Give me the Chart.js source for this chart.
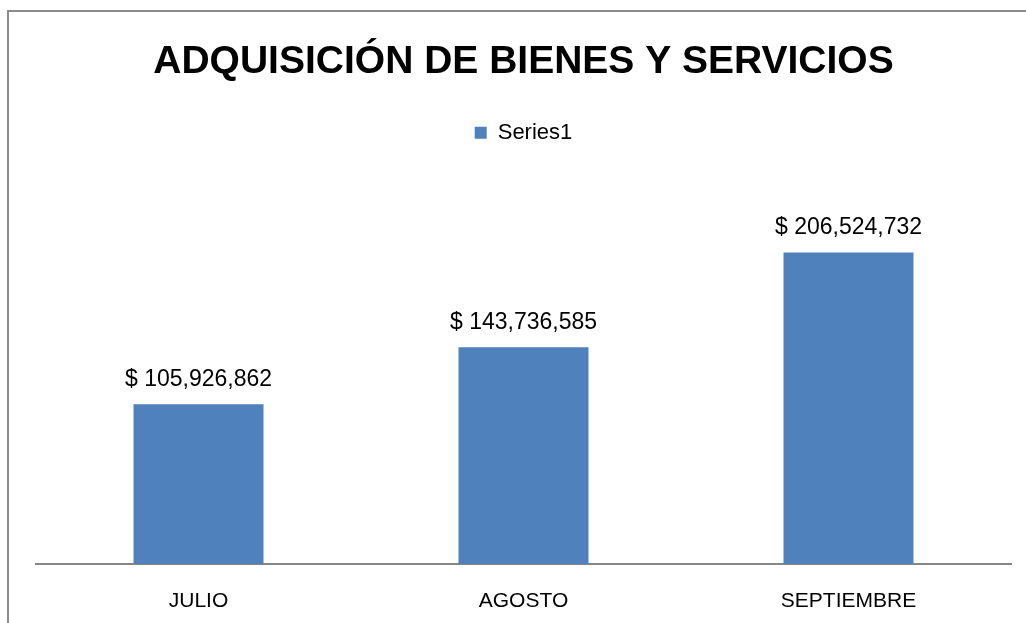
<!DOCTYPE html>
<html>
<head>
<meta charset="utf-8">
<script src="https://cdn.jsdelivr.net/npm/chart.js@4"></script>
<style>
  html, body { margin: 0; padding: 0; background: #fff; }
  #marco {
    position: absolute; left: 7px; top: 10px; width: 1030px; height: 630px;
    border-left: 2px solid #8c8c8c; border-top: 2px solid #8c8c8c;
  }
  #caja { position: absolute; left: 0; top: 0; width: 1026px; height: 623px; }
</style>
</head>
<body>
<div id="marco"></div>
<div id="caja"><canvas id="myChart"></canvas></div>
<script>
var meses = ["JULIO", "AGOSTO", "SEPTIEMBRE"];
var montos = [105926862, 143736585, 206524732];
var nombreSerie = "Series1";
var ejeMax = 250000000;

var fuente = "'Liberation Sans', Arial, sans-serif";

// etiquetas "$ 123,456" encima de cada barra
var etiquetas = {
  id: "etiquetas",
  afterDatasetsDraw: function (chart) {
    var ctx = chart.ctx;
    var meta = chart.getDatasetMeta(0);
    ctx.save();
    ctx.font = "23px " + fuente;
    ctx.fillStyle = "#000";
    ctx.textAlign = "center";
    ctx.textBaseline = "alphabetic";
    meta.data.forEach(function (bar, i) {
      var txt = "$ " + montos[i].toLocaleString("en-US");
      ctx.fillText(txt, bar.x, bar.y - 18);
    });
    ctx.restore();
  }
};

// mas espacio entre la leyenda y las barras
var espacioLeyenda = {
  id: "espacioLeyenda",
  beforeInit: function (chart) {
    var fitOriginal = chart.legend.fit;
    chart.legend.fit = function () {
      fitOriginal.bind(chart.legend)();
      this.height += 33;
    };
  }
};

var ctx = document.getElementById("myChart");
var data = {
  labels: meses,
  datasets: [
    {
      label: nombreSerie,
      data: montos,
      backgroundColor: "#4F81BD",
      barPercentage: 0.4,
      categoryPercentage: 1.0,
    },
  ],
};
var config = {
  type: "bar",
  data,
  options: {
    responsive: true,
    maintainAspectRatio: false,
    animation: false,
    layout: { padding: { left: 36, right: 15, top: 0, bottom: 0 } },
    plugins: {
      title: {
        display: true,
        text: "ADQUISICIÓN DE BIENES Y SERVICIOS",
        color: "#000",
        font: { family: fuente, size: 39, weight: "bold" },
        padding: { top: 39, bottom: 26 },
      },
      legend: {
        display: true,
        position: "top",
        labels: {
          color: "#000",
          font: { family: fuente, size: 22 },
          boxWidth: 12,
          boxHeight: 12,
          padding: 10,
        },
      },
      tooltip: { enabled: false },
    },
    scales: {
      x: {
        grid: { display: false },
        border: { display: true, color: "#868686", width: 2 },
        ticks: { color: "#000", font: { family: fuente, size: 21 }, padding: 17 },
        afterFit: function (scale) { scale.height = 59; },
      },
      y: {
        display: false,
        min: 0,
        max: ejeMax,
      },
    },
  },
  plugins: [etiquetas, espacioLeyenda],
};

var myChart = new Chart(ctx, config);
</script>
</body>
</html>
